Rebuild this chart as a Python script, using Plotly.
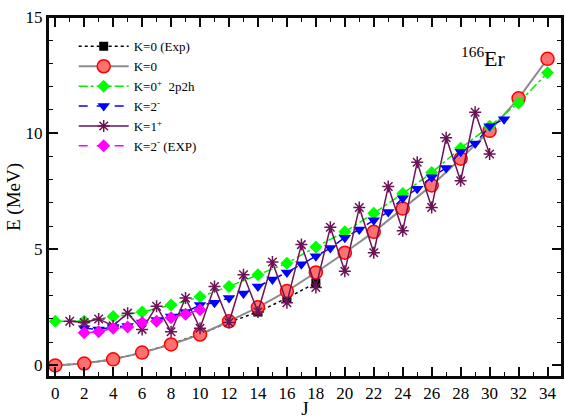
import plotly.graph_objects as go

# K=0 theory (J even 0..34)
J_k0 = [0, 2, 4, 6, 8, 10, 12, 14, 16, 18, 20, 22, 24, 26, 28, 30, 32, 34]
E_k0 = [0.0, 0.08, 0.26, 0.55, 0.9, 1.33, 1.9, 2.5, 3.2, 4.0, 4.85, 5.75, 6.75, 7.75, 8.9, 10.1, 11.5, 13.2]

# K=0 experiment
J_k0exp = [0, 2, 4, 6, 8, 10, 12, 14, 16, 18]
E_k0exp = [0.0, 0.08, 0.26, 0.55, 0.92, 1.35, 1.85, 2.3, 2.9, 3.55]

# K=0+ 2p2h
J_k0p = [0, 2, 4, 6, 8, 10, 12, 14, 16, 18, 20, 22, 24, 26, 28, 30, 32, 34]
E_k0p = [1.9, 1.9, 2.1, 2.3, 2.6, 2.95, 3.4, 3.9, 4.4, 5.1, 5.75, 6.55, 7.4, 8.3, 9.35, 10.3, 11.3, 12.6]

# K=2- theory
J_k2 = list(range(2, 32))
E_k2 = [1.6, 1.55, 1.65, 1.7, 1.85, 1.95, 2.1, 2.3, 2.6, 2.7, 2.9, 3.1, 3.4, 3.7,
        4.0, 4.35, 4.7, 5.05, 5.5, 5.85, 6.25, 6.6, 7.2, 7.6, 8.1, 8.5, 9.2, 9.55,
        10.3, 10.6]

# K=1+
J_k1 = list(range(1, 31))
E_k1 = [1.9, 1.85, 2.0, 1.7, 2.25, 1.55, 2.55, 1.45, 2.9, 1.6, 3.4, 1.85, 3.9, 2.3,
        4.45, 2.7, 5.2, 3.35, 5.95, 4.05, 6.8, 4.85, 7.7, 5.8, 8.75, 6.8, 9.8, 7.95,
        10.9, 9.1]

# K=2- experiment
J_k2exp = [2, 3, 4, 5, 6, 7, 8, 9, 10]
E_k2exp = [1.4, 1.45, 1.6, 1.65, 1.85, 1.9, 2.05, 2.2, 2.4]

SERIF = "Liberation Serif"
INK = "#0a0a0a"

fig = go.Figure()
fig.add_trace(go.Scatter(x=J_k0exp, y=E_k0exp, name="K=0 (Exp)", mode="lines+markers",
                         line=dict(color="black", width=1.5, dash="dot"),
                         marker=dict(symbol="square", size=9, color="black")))
fig.add_trace(go.Scatter(x=J_k0, y=E_k0, name="K=0", mode="lines+markers",
                         line=dict(color="#8c8c8c", width=2),
                         marker=dict(symbol="circle", size=13, color="#ff7070",
                                     line=dict(color="#ff0000", width=1.5))))
fig.add_trace(go.Scatter(x=J_k0p, y=E_k0p, name="K=0<sup>+</sup>  2p2h", mode="lines+markers",
                         line=dict(color="#00ee00", width=1.5, dash="dashdot"),
                         marker=dict(symbol="diamond", size=10, color="#00ff00")))
fig.add_trace(go.Scatter(x=J_k2, y=E_k2, name="K=2<sup>-</sup>", mode="lines+markers",
                         line=dict(color="#0000ff", width=1.5, dash="dash"),
                         marker=dict(symbol="triangle-down", size=11, color="#0000ff")))
fig.add_trace(go.Scatter(x=J_k1, y=E_k1, name="K=1<sup>+</sup>", mode="lines+markers",
                         line=dict(color="#6b1356", width=1.5),
                         marker=dict(symbol="asterisk-open", size=10,
                                     line=dict(color="#6b1356", width=1.5))))
fig.add_trace(go.Scatter(x=J_k2exp, y=E_k2exp, name="K=2<sup>-</sup> (EXP)", mode="lines+markers",
                         line=dict(color="#ff00ff", width=1.5, dash="dash"),
                         marker=dict(symbol="diamond", size=10, color="#ff00ff")))

fig.add_annotation(x=0.8, y=0.89, xref="paper", yref="paper", showarrow=False,
                   text="<sup>166</sup>Er", font=dict(family=SERIF, size=22, color="black"),
                   xanchor="left", yanchor="middle")

# plot frame
fig.add_shape(type="rect", xref="paper", yref="paper", x0=0, y0=0, x1=1, y1=1,
              line=dict(color=INK, width=2), fillcolor="rgba(0,0,0,0)", layer="above")

fig.update_xaxes(range=[-0.5, 35], dtick=2, showline=True, linecolor=INK, linewidth=2,
                 ticks="inside", ticklen=10, tickwidth=2, tickcolor=INK, mirror="allticks",
                 gridcolor="rgba(0,0,0,0)", zerolinecolor="rgba(0,0,0,0)", automargin=False,
                 minor=dict(dtick=1, ticks="inside", ticklen=5, tickcolor=INK, tickwidth=1),
                 tickfont=dict(family=SERIF, size=17, color="black"),
                 title=dict(text="J", font=dict(family=SERIF, size=19, color="black"), standoff=0))
fig.update_yaxes(range=[-0.5, 15], dtick=5, showline=True, linecolor=INK, linewidth=2,
                 ticks="inside", ticklen=10, tickwidth=2, tickcolor=INK, mirror="allticks",
                 gridcolor="rgba(0,0,0,0)", zerolinecolor="rgba(0,0,0,0)", automargin=False,
                 minor=dict(dtick=1, ticks="inside", ticklen=5, tickcolor=INK, tickwidth=1),
                 tickfont=dict(family=SERIF, size=17, color="black"),
                 title=dict(text="E (MeV)", font=dict(family=SERIF, size=19, color="black"), standoff=0))

fig.update_layout(width=565, height=419, margin=dict(l=48, r=3, t=17, b=42),
                  plot_bgcolor="white",
                  legend=dict(x=0.05, y=0.96, xanchor="left", yanchor="top",
                              bgcolor="rgba(0,0,0,0)", itemwidth=50,
                              font=dict(family=SERIF, size=13, color="black")))

fig.write_html("out.html", post_script="document.body.style.margin='0';",
               config={"displayModeBar": False})
